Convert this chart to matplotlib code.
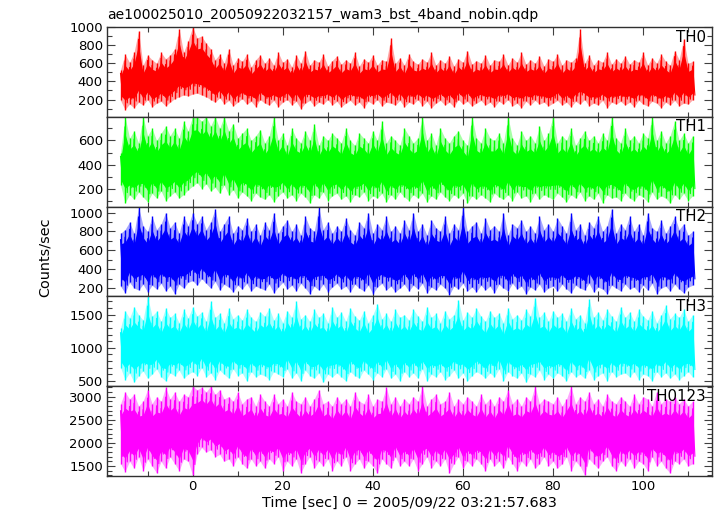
import numpy as np
import matplotlib
matplotlib.use("Agg")
import matplotlib.pyplot as plt
from matplotlib.ticker import MultipleLocator

# light curves: per-second high / low excursions
time_start = -16  # first sample (sec)
labels = ["TH0", "TH1", "TH2", "TH3", "TH0123"]
colors = ["#ff0000", "#00ff00", "#0000ff", "#00ffff", "#ff00ff"]

th0_hi = [530, 700, 610, 720, 960, 580, 690, 640, 600, 720, 650, 690, 760, 980, 720, 850,
          1000, 880, 900, 820, 760, 640, 700, 600, 760, 580, 660, 620, 700, 560, 640, 690,
          600, 660, 580, 720, 610, 650, 560, 690, 600, 740, 580, 640, 610, 700, 570, 630,
          680, 590, 640, 600, 720, 570, 650, 610, 690, 580, 640, 620, 880, 600, 660, 580,
          700, 620, 590, 650, 610, 720, 580, 640, 600, 680, 570, 650, 610, 740, 590, 630,
          600, 690, 580, 640, 620, 700, 580, 660, 610, 720, 590, 640, 600, 680, 570, 650,
          620, 700, 580, 640, 610, 660, 980, 600, 690, 580, 640, 610, 720, 590, 650, 600,
          680, 590, 640, 610, 720, 580, 660, 600, 700, 620, 580, 740, 640, 870, 600, 620]
th0_lo = [190, 90, 150, 110, 170, 140, 200, 120, 160, 180, 130, 170, 210, 230, 250, 240,
          260, 270, 250, 230, 200, 170, 220, 150, 190, 130, 170, 210, 150, 180, 120, 200,
          160, 140, 190, 120, 170, 200, 140, 180, 100, 160, 190, 130, 170, 150, 200, 140,
          180, 120, 160, 190, 140, 170, 110, 180, 150, 200, 130, 170, 160, 140, 190, 120,
          170, 150, 200, 130, 180, 110, 160, 190, 140, 170, 120, 200, 150, 180, 130, 160,
          190, 140, 170, 120, 180, 150, 200, 130, 160, 110, 180, 140, 190, 150, 170, 130,
          160, 190, 140, 170, 120, 180, 150, 200, 130, 160, 140, 190, 110, 170, 150, 180,
          140, 170, 120, 190, 150, 130, 180, 160, 110, 170, 140, 190, 130, 160, 150, 200]

th1_hi = [500, 800, 620, 680, 580, 800, 640, 700, 600, 660, 720, 640, 700, 620, 760, 680,
          800, 800, 760, 800, 720, 800, 700, 800, 680, 740, 620, 660, 700, 600, 640, 690,
          580, 640, 800, 600, 660, 560, 700, 620, 580, 680, 600, 740, 560, 640, 600, 660,
          620, 580, 700, 600, 560, 660, 620, 580, 680, 600, 760, 580, 640, 600, 560, 700,
          640, 580, 620, 800, 600, 660, 560, 700, 620, 580, 640, 680, 600, 560, 800, 620,
          580, 700, 620, 600, 660, 580, 800, 620, 560, 680, 600, 640, 580, 720, 600, 660,
          800, 580, 640, 600, 700, 560, 620, 680, 600, 640, 580, 660, 600, 800, 620, 580,
          700, 600, 640, 580, 660, 620, 800, 600, 680, 580, 640, 760, 600, 660, 580, 640]
th1_lo = [230, 80, 150, 110, 170, 130, 90, 160, 120, 180, 100, 140, 170, 120, 150, 190,
          220, 250, 200, 240, 180, 210, 160, 230, 150, 190, 120, 170, 140, 100, 160, 130,
          110, 150, 90, 140, 170, 120, 150, 100, 160, 130, 80, 150, 120, 170, 100, 140,
          160, 110, 140, 90, 150, 130, 170, 100, 140, 120, 160, 90, 150, 110, 170, 130,
          100, 150, 120, 160, 90, 140, 110, 170, 130, 100, 150, 120, 160, 80, 140, 110,
          150, 120, 90, 160, 130, 110, 150, 100, 170, 120, 140, 90, 160, 110, 150, 130,
          110, 160, 130, 90, 150, 120, 170, 100, 140, 110, 160, 80, 150, 120, 130, 100,
          160, 120, 100, 150, 130, 90, 170, 110, 140, 120, 80, 150, 110, 160, 100, 140]

th2_hi = [780, 820, 900, 780, 1060, 860, 800, 960, 820, 880, 1000, 840, 900, 780, 960, 860,
          1000, 880, 960, 820, 900, 1040, 800, 880, 960, 780, 860, 820, 940, 800, 880, 760,
          900, 820, 1000, 780, 860, 920, 800, 880, 760, 960, 840, 800, 1060, 820, 900, 780,
          860, 800, 940, 820, 760, 900, 840, 1000, 780, 880, 820, 960, 800, 860, 780, 920,
          820, 1000, 800, 880, 760, 920, 840, 800, 960, 780, 880, 820, 1060, 800, 860, 900,
          780, 940, 820, 860, 800, 1000, 760, 880, 840, 920, 800, 860, 780, 960, 820, 880,
          800, 940, 860, 780, 1000, 820, 880, 760, 900, 840, 960, 800, 860, 1040, 780, 880,
          820, 960, 800, 880, 760, 1000, 840, 800, 920, 780, 860, 960, 820, 880, 760, 800]
th2_lo = [220, 150, 260, 200, 180, 240, 160, 230, 190, 250, 170, 220, 140, 240, 200, 260,
          280, 230, 300, 250, 200, 270, 180, 240, 210, 160, 230, 190, 250, 170, 220, 200,
          180, 240, 150, 210, 260, 190, 230, 170, 250, 200, 140, 220, 180, 240, 160, 210,
          250, 190, 220, 160, 240, 200, 170, 230, 140, 210, 250, 180, 220, 160, 200, 240,
          170, 230, 190, 250, 150, 210, 180, 240, 200, 130, 220, 190, 250, 170, 210, 160,
          230, 180, 220, 150, 240, 200, 170, 250, 190, 220, 140, 210, 180, 240, 160, 200,
          220, 170, 240, 190, 150, 230, 200, 180, 250, 160, 210, 190, 140, 230, 200, 170,
          240, 190, 210, 160, 230, 180, 250, 140, 200, 220, 170, 240, 190, 150, 210, 230]

th3_hi = [1300, 1560, 1450, 1620, 1500, 1420, 1780, 1480, 1550, 1400, 1600, 1460, 1520, 1380, 1580, 1450,
          1620, 1480, 1540, 1400, 1700, 1460, 1520, 1380, 1600, 1440, 1500, 1420, 1580, 1460, 1400, 1540,
          1480, 1600, 1420, 1520, 1380, 1560, 1460, 1700, 1440, 1500, 1400, 1580, 1460, 1520, 1380, 1620,
          1460, 1540, 1400, 1600, 1480, 1420, 1560, 1380, 1500, 1660, 1440, 1520, 1400, 1580, 1460, 1500,
          1420, 1580, 1480, 1400, 1620, 1460, 1520, 1380, 1560, 1440, 1500, 1720, 1420, 1540, 1460, 1600,
          1480, 1400, 1560, 1460, 1520, 1380, 1600, 1440, 1500, 1420, 1580, 1480, 1760, 1460, 1540, 1400,
          1560, 1460, 1520, 1400, 1600, 1440, 1500, 1380, 1740, 1460, 1540, 1420, 1580, 1480, 1400, 1620,
          1460, 1540, 1400, 1580, 1480, 1420, 1560, 1380, 1500, 1640, 1440, 1520, 1460, 1580, 1400, 1500]
th3_lo = [700, 520, 620, 480, 580, 650, 540, 600, 680, 560, 500, 620, 580, 660, 540, 600,
          640, 580, 700, 560, 620, 520, 660, 600, 540, 680, 580, 620, 500, 640, 560, 600,
          580, 520, 640, 600, 560, 680, 540, 620, 500, 660, 580, 540, 620, 480, 600, 560,
          620, 560, 500, 640, 580, 540, 660, 600, 520, 620, 560, 680, 540, 600, 500, 640,
          560, 620, 540, 680, 500, 600, 560, 640, 520, 580, 660, 540, 620, 500, 580, 640,
          600, 540, 620, 560, 680, 500, 640, 580, 540, 620, 480, 600, 560, 660, 520, 600,
          540, 620, 580, 500, 640, 560, 600, 540, 660, 520, 580, 620, 500, 640, 560, 600,
          620, 560, 640, 520, 600, 580, 500, 640, 560, 620, 540, 600, 520, 580, 640, 560]

th0123_hi = [2850, 3100, 2950, 3050, 2800, 2900, 3150, 2850, 3000, 2900, 3200, 2950, 3100, 2900, 3050, 3000,
             3230, 3150, 3200, 3100, 3230, 3050, 3150, 2950, 3000, 2900, 3100, 2850, 2950, 3000, 2800, 3050,
             2900, 2800, 3050, 2850, 2950, 2800, 3100, 2900, 2850, 3000, 2800, 2950, 3150, 2850, 2900, 2800,
             3000, 2850, 2950, 2800, 3100, 2900, 2850, 3050, 2800, 2950, 2900, 3200, 2850, 3000, 2800, 2950,
             2850, 3000, 2900, 3230, 2800, 2950, 3050, 2850, 2900, 3100, 2800, 2950, 2850, 3000, 2900, 2800,
             3050, 2850, 2950, 2800, 3000, 2900, 3150, 2850, 2950, 2800, 3000, 2900, 3230, 2850, 2950, 2900,
             2850, 3000, 2800, 2950, 3230, 2850, 3000, 2900, 3100, 2850, 2950, 2800, 3050, 2900, 2850, 3000,
             2900, 2800, 3050, 2850, 3000, 2950, 2800, 3100, 2850, 2950, 2900, 3000, 2850, 2950, 2800, 2900]
th0123_lo = [1550, 1380, 1600, 1450, 1700, 1400, 1650, 1500, 1350, 1600, 1450, 1700, 1550, 1400, 1650, 1600,
             1300, 1750, 1900, 1800, 1850, 1700, 1750, 1600, 1650, 1500, 1700, 1550, 1450, 1650, 1500, 1600,
             1450, 1650, 1550, 1700, 1400, 1600, 1500, 1650, 1350, 1550, 1700, 1450, 1600, 1500, 1650, 1400,
             1600, 1500, 1700, 1400, 1550, 1650, 1450, 1600, 1500, 1350, 1650, 1550, 1450, 1700, 1500, 1600,
             1500, 1650, 1400, 1550, 1700, 1450, 1600, 1500, 1650, 1350, 1550, 1700, 1450, 1600, 1500, 1650,
             1550, 1400, 1650, 1500, 1600, 1450, 1700, 1550, 1400, 1600, 1500, 1650, 1450, 1550, 1700, 1500,
             1600, 1450, 1550, 1700, 1400, 1600, 1500, 1300, 1650, 1550, 1450, 1600, 1700, 1500, 1400, 1600,
             1500, 1650, 1450, 1600, 1550, 1400, 1700, 1500, 1600, 1450, 1350, 1600, 1550, 1650, 1500, 1550]

highs = [th0_hi, th1_hi, th2_hi, th3_hi, th0123_hi]
lows = [th0_lo, th1_lo, th2_lo, th3_lo, th0123_lo]
ylims = [(10, 1000), (50, 797), (112, 1063), (420, 1777), (1283, 3226)]
ymajor = [200, 200, 200, 500, 500]

plt.rcParams['font.family'] = ['DejaVu Sans']
W, H = 717, 516
fig = plt.figure(figsize=(W / 100, H / 100), dpi=100)

left, right = 107, 712
top, bottom = 27, 476
ph = (bottom - top) / 5

axes = []
for i in range(5):
    y0 = top + i * ph
    ax = fig.add_axes([left / W, 1 - (y0 + ph) / H, (right - left) / W, ph / H])
    hi = np.array(highs[i], dtype=float)
    lo = np.array(lows[i], dtype=float)
    t = time_start + np.arange(len(hi))
    span = hi - lo
    # pale outer band, solid inner band, thin spikes to the extremes
    ax.fill_between(t, lo, hi, color=colors[i], lw=0, alpha=0.35)
    ax.fill_between(t, lo + 0.17 * span, hi - 0.2 * span, color=colors[i], lw=0)
    ax.vlines(t, lo, hi, color=colors[i], lw=1.0)
    x = np.empty(2 * len(t))
    y = np.empty(2 * len(t))
    x[0::2], x[1::2] = t, t + 0.5
    y[0::2], y[1::2] = hi - 0.12 * span, lo + 0.12 * span
    ax.plot(x, y, color=colors[i], lw=0.8)
    ax.set_xlim(-19, 115.3)
    ax.set_ylim(*ylims[i])
    ax.xaxis.set_major_locator(MultipleLocator(20))
    ax.xaxis.set_minor_locator(MultipleLocator(10))
    ax.yaxis.set_major_locator(MultipleLocator(ymajor[i]))
    ax.yaxis.set_minor_locator(MultipleLocator(100))
    ax.tick_params(which='both', direction='in', top=True, right=True,
                   color='#404040', labelsize=9.5, pad=3)
    ax.tick_params(which='major', length=6, width=0.8)
    ax.tick_params(which='minor', length=3.5, width=0.8)
    if i < 4:
        ax.tick_params(labelbottom=False)
    for s in ax.spines.values():
        s.set_color('#303030')
        s.set_linewidth(1.0)
    ax.text(0.99, 0.97, labels[i], transform=ax.transAxes, ha='right', va='top',
            fontsize=10.8)
    axes.append(ax)

fig.text(left / W, 1 - 19 / H, "ae100025010_20050922032157_wam3_bst_4band_nobin.qdp",
         ha='left', va='baseline', fontsize=10)
axes[-1].set_xlabel("Time [sec] 0 = 2005/09/22 03:21:57.683", fontsize=10.4, labelpad=2)
fig.text(45 / W, 1 - 257 / H, "Counts/sec", rotation=90, ha='center', va='center',
         fontsize=10.4)

fig.savefig("out.png", dpi=100)
